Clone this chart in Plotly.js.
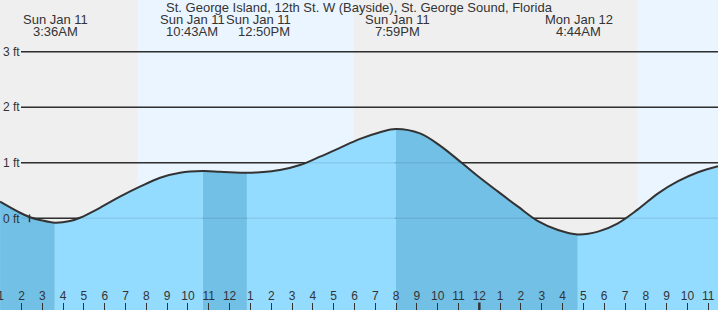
<!DOCTYPE html>
<html>
<head>
<meta charset="utf-8">
<script src="https://cdn.plot.ly/plotly-3.0.1.min.js"></script>
<style>
html,body{margin:0;padding:0;background:#fff;}
#chart{width:718px;height:310px;}
</style>
</head>
<body>
<div id="chart"></div>
<script>
// Hours since Sun Jan 11 00:00 and tide height (ft)
const tideHours = [0.97, 1.93, 2.41, 2.89, 3.6, 4.33, 4.81, 5.77, 6.73, 7.69, 8.66, 9.62,
  10.717, 11.54, 12.833, 13.46, 14.42, 15.38, 16.34, 17.30, 18.27, 19.23, 19.983,
  21.15, 22.11, 23.15, 24.03, 24.90, 25.86, 26.82, 27.78, 28.733, 29.70, 30.66,
  31.62, 32.59, 33.55, 34.51, 35.47];
const tideFeet = [0.30, 0.10, 0.02, -0.03, -0.08, -0.05, 0.01, 0.19, 0.39, 0.57, 0.73, 0.82,
  0.85, 0.84, 0.82, 0.83, 0.87, 0.96, 1.11, 1.27, 1.43, 1.55, 1.61,
  1.53, 1.31, 1.00, 0.73, 0.48, 0.21, -0.05, -0.21, -0.29, -0.24, -0.09,
  0.16, 0.45, 0.67, 0.83, 0.94];

// High / low tide events
const extremeHours = [3.6, 10.717, 12.833, 19.983, 28.733];
const extremeType = ['L', 'H', 'L', 'H', 'L'];
const extremeDay = ['Sun Jan 11', 'Sun Jan 11', 'Sun Jan 11', 'Sun Jan 11', 'Mon Jan 12'];
const extremeTime = ['3:36AM', '10:43AM', '12:50PM', '7:59PM', '4:44AM'];

// Daylight intervals (hours since Jan 11 00:00)
const dayStart = [7.583, 31.59];
const dayEnd = [17.977, 36];

// Hour ticks
const tickHours = [1,2,3,4,5,6,7,8,9,10,11,12,13,14,15,16,17,18,19,20,21,22,23,24,25,26,27,28,29,30,31,32,33,34,35];
const tickLabels = ['1','2','3','4','5','6','7','8','9','10','11','12','1','2','3','4','5','6','7','8','9','10','11','12','1','2','3','4','5','6','7','8','9','10','11'];
const midnightHour = 24;

const yTicks = [0, 1, 2, 3];
const yLabels = ['0 ft', '1 ft', '2 ft', '3 ft'];

const titleText = 'St. George Island, 12th St. W (Bayside), St. George Sound, Florida';

const W = 718, H = 310;
const xRange = [0.9664, 35.469];
const yRange = [-1.652, 3.933];

const colNight = '#efefef', colDay = '#ebf5ff';
const colWaterLight = '#94dcff', colWaterDark = '#72c0e6';
const colInk = '#333333';

// Build fill segments split at the tide extremes
const traces = [];
const cuts = [0];
extremeHours.forEach(h => cuts.push(tideHours.indexOf(h)));
cuts.push(tideHours.length - 1);
for (let s = 0; s < cuts.length - 1; s++) {
  const a = cuts[s], b = cuts[s + 1];
  const xs = tideHours.slice(a, b + 1), ys = tideFeet.slice(a, b + 1);
  // falling segment = ends at a low tide
  const falling = s < extremeType.length && extremeType[s] === 'L';
  traces.push({x: [xs[0], xs[xs.length - 1]], y: [-5, -5], mode: 'lines',
    line: {width: 0, color: 'rgba(0,0,0,0)'}, hoverinfo: 'skip', showlegend: false});
  traces.push({x: xs, y: ys, mode: 'lines', fill: 'tonexty',
    fillcolor: falling ? colWaterDark : colWaterLight,
    line: {width: 0, shape: 'spline', color: 'rgba(0,0,0,0)'}, hoverinfo: 'skip', showlegend: false});
}
traces.push({x: tideHours, y: tideFeet, mode: 'lines',
  line: {color: colInk, width: 2, shape: 'spline'}, hoverinfo: 'skip', showlegend: false});

const shapes = [];
for (let i = 0; i < dayStart.length; i++) {
  shapes.push({type: 'rect', layer: 'below', xref: 'x', yref: 'paper',
    x0: dayStart[i], x1: dayEnd[i], y0: 0, y1: 1, fillcolor: colDay, line: {width: 0}});
}
yTicks.forEach(v => {
  shapes.push({type: 'line', layer: 'below', xref: 'paper', yref: 'y',
    x0: 21 / W, x1: 1, y0: v, y1: v, line: {color: colInk, width: 1.4}});
  shapes.push({type: 'line', layer: 'above', xref: 'paper', yref: 'y',
    x0: 21 / W, x1: 1, y0: v, y1: v, line: {color: 'rgba(0,0,0,0.08)', width: 1.4}});
});
shapes.push({type: 'line', layer: 'above', xref: 'paper', yref: 'y',
  x0: 29.5 / W, x1: 29.5 / W, y0: -0.07, y1: 0.07, line: {color: colInk, width: 1.5}});
shapes.push({type: 'line', layer: 'above', xref: 'x', yref: 'paper',
  x0: midnightHour, x1: midnightHour, y0: 0, y1: 7.5 / H, line: {color: colInk, width: 2.5}});

const labelShift1 = [0.5, -10.5, 11.5, 1.3, 1];
const labelShift2 = [1, -10.5, 17.5, 1.6, 0.5];
const annotations = [];
for (let i = 0; i < extremeHours.length; i++) {
  annotations.push({x: extremeHours[i], xref: 'x', y: 1 - 19.5 / H, yref: 'paper',
    yanchor: 'middle', xanchor: 'center', xshift: labelShift1[i], showarrow: false,
    text: extremeDay[i], font: {family: 'Liberation Sans, Arial, sans-serif', size: 13, color: colInk}});
  annotations.push({x: extremeHours[i], xref: 'x', y: 1 - 31.5 / H, yref: 'paper',
    yanchor: 'middle', xanchor: 'center', xshift: labelShift2[i], showarrow: false,
    text: extremeTime[i], font: {family: 'Liberation Sans, Arial, sans-serif', size: 13, color: colInk}});
}

const layout = {
  width: W, height: H,
  margin: {l: 0, r: 0, t: 0, b: 0, pad: 0},
  paper_bgcolor: colNight, plot_bgcolor: colNight,
  showlegend: false,
  font: {family: 'Liberation Sans, Arial, sans-serif', color: colInk},
  title: {text: titleText, x: 0.5, xanchor: 'center', xref: 'paper',
    y: 1 - 7.5 / H, yref: 'container', yanchor: 'middle',
    font: {family: 'Liberation Sans, Arial, sans-serif', size: 13, color: colInk}},
  xaxis: {range: xRange, type: 'linear', tickmode: 'array', tickvals: tickHours, ticktext: tickLabels,
    ticks: 'inside', ticklen: 7, tickwidth: 1, tickcolor: colInk,
    ticklabelposition: 'inside', ticklabeloverflow: 'allow',
    tickfont: {size: 12, color: colInk, family: 'Liberation Sans, Arial, sans-serif'},
    showgrid: false, zeroline: false, showline: false, fixedrange: true},
  yaxis: {range: yRange, tickmode: 'array', tickvals: yTicks, ticktext: yLabels,
    ticks: '', ticklabelposition: 'inside', ticklabeloverflow: 'allow',
    tickfont: {size: 12, color: colInk, family: 'Liberation Sans, Arial, sans-serif'},
    showgrid: false, zeroline: false, showline: false, fixedrange: true},
  shapes: shapes,
  annotations: annotations
};

Plotly.newPlot('chart', traces, layout, {staticPlot: true, displayModeBar: false});
</script>
</body>
</html>
